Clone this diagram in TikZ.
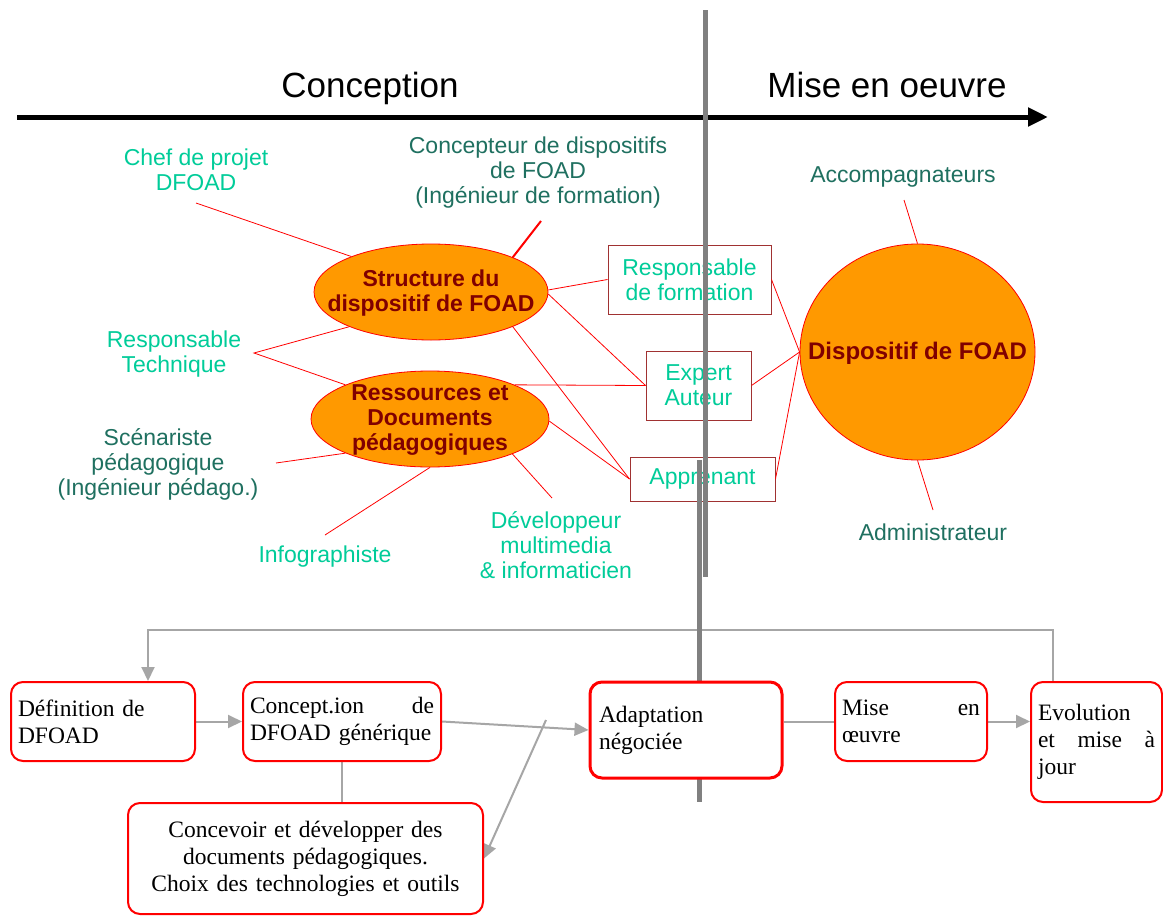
\documentclass[tikz,border=0pt]{standalone}
\usepackage{fontspec}
\setmainfont{Liberation Serif}
\newfontfamily\arial{Liberation Sans}
\usetikzlibrary{arrows.meta,shapes.geometric}
\pgfdeclarelayer{bg}
\pgfsetlayers{bg,main}
\definecolor{orng}{RGB}{255,153,0}
\definecolor{dred}{RGB}{128,0,0}
\definecolor{lgreen}{RGB}{0,204,153}
\definecolor{dteal}{RGB}{31,112,96}
\definecolor{boxred}{RGB}{160,50,50}
\definecolor{lgray}{RGB}{166,166,166}
\definecolor{dgray}{RGB}{128,128,128}
\begin{document}
\begin{tikzpicture}[x=1pt,y=-1pt,
  lbl/.style={font=\arial\fontsize{23}{25}\selectfont, align=center, inner sep=0pt},
  lg/.style={lbl, text=lgreen},
  tl/.style={lbl, text=dteal},
  title/.style={font=\arial\fontsize{35}{40}\selectfont, inner sep=0pt, anchor=base},
  ellshape/.style={ellipse, draw=red, fill=orng, line width=0.8pt, inner sep=0pt},
  etext/.style={font=\arial\bfseries\fontsize{23}{25}\selectfont, text=dred, align=center, inner sep=0pt},
  rolebox/.style={draw=boxred, line width=1pt, fill=white, lbl, text=lgreen},
  link/.style={draw=red, line width=0.8pt},
  proc/.style={draw=red, line width=2pt, rounded corners=12pt, fill=white, font=\fontsize{23.5}{27}\selectfont, inner xsep=7pt, inner ysep=0pt, align=left},
  garr/.style={draw=lgray, line width=2pt, -{Triangle[length=14pt,width=13pt]}},
  gline/.style={draw=lgray, line width=2pt},
  vbar/.style={draw=dgray, line width=5pt},
]
\useasboundingbox (0,0) rectangle (1163,916);
\begin{pgfonlayer}{bg}
\fill[white] (0,0) rectangle (1163,916);
\end{pgfonlayer}

% titles and main arrow
\node[title] (tconc) at (370,97) {Conception};
\node[title] (tmise) at (887,97) {Mise en oeuvre};
\coordinate (ax1) at (17,117);
\coordinate (ax2) at (1048,117);
\draw[line width=5pt, -{Triangle[length=20pt,width=18pt]}] (ax1) -- (ax2);

% ellipses
\node[ellshape, minimum width=234pt, minimum height=96pt] (s1) at (431,292) {};
\node[etext] (s1t) at (431,293) {Structure du\\dispositif de FOAD};
\node[ellshape, minimum width=238pt, minimum height=96pt] (r1) at (430,419) {};
\node[etext] (r1t) at (430,420) {Ressources et\\Documents\\pédagogiques};
\node[ellshape, minimum width=235pt, minimum height=216pt] (disp) at (917.5,352) {};
\node[etext, font=\arial\bfseries\fontsize{24}{26}\selectfont] (dispt) at (917.5,353) {Dispositif de FOAD};

% role boxes
\node[rolebox, minimum width=163pt, minimum height=69pt] (rf) at (689.5,279.5) {Responsable\\de formation};
\node[rolebox, minimum width=105pt, minimum height=69pt] (ea) at (698.5,385.5) {Expert\\Auteur};
\node[rolebox, minimum width=145pt, minimum height=44pt] (ap) at (702.5,479) {Apprenant};

% labels
\node[lg] (chef) at (196,170) {Chef de projet\\DFOAD};
\node[tl] (concp) at (538,173) {Concepteur de dispositifs\\de FOAD\\(Ingénieur de formation)};
\node[tl] (acc) at (903,177) {Accompagnateurs};
\node[lg] (rt) at (174,354) {Responsable\\Technique};
\node[tl] (scen) at (158,464) {Scénariste\\pédagogique\\(Ingénieur pédago.)};
\node[lg] (info) at (325,557) {Infographiste};
\node[lg] (dev) at (556,545) {Développeur\\multimedia\\\& informaticien};
\node[tl] (adm) at (933,532) {Administrateur};

% free ends
\coordinate (chefE) at (196,203);
\coordinate (concE) at (541,221);
\coordinate (rtE) at (254,353);
\coordinate (scE) at (276,463);
\coordinate (infE) at (325,535);
\coordinate (devE) at (552,498);
\coordinate (accE) at (904,200);
\coordinate (admE) at (933,510);

% red links
\draw[link] (chefE) -- (s1.156);
\draw[link, line width=2pt] (concE) -- (s1.23);
\draw[link] (s1.203) -- (rtE) -- (r1.158);
\draw[link] (scE) -- (r1.202);
\draw[link] (infE) -- (r1.south);
\draw[link] (devE) -- (r1.337);
\draw[link] (s1.1) -- (rf.west);
\draw[link] (s1.-1) -- (ea.west);
\draw[link] (s1.337) -- (ap.west);
\draw[link] (r1.22) -- (ea.west);
\draw[link] (r1.-1) -- (ap.west);
\draw[link] (rf.east) -- (disp.west);
\draw[link] (ea.east) -- (disp.west);
\draw[link] (ap.east) -- (disp.west);
\draw[link] (accE) -- (disp.north);
\draw[link] (disp.south) -- (admE);

% gray vertical divider
\coordinate (g1) at (705,10);
\coordinate (g2) at (705,577);
\coordinate (g3) at (699,460);
\coordinate (g4) at (699,802);
\draw[vbar] (g1) -- (g2);
\draw[vbar] (g3) -- (g4);

% process boxes
\node[proc, text width=170pt, minimum height=79pt] (def) at (103,721.5) {Définition de\\DFOAD};
\node[proc, text width=184pt, minimum height=79pt] (conc) at (342,721.5) {Concept.ion\hfill de\\DFOAD générique};
\node[proc, text width=341pt, align=center, minimum height=111pt] (concv) at (305.5,858.5) {Concevoir et développer des\\documents pédagogiques.\\Choix des technologies et outils};
\node[proc, line width=3pt, text width=174pt, inner xsep=9pt, minimum height=96pt] (adap) at (686,730) {Adaptation\\négociée};
\node[proc, text width=138pt, minimum height=79pt] (mise) at (911,721.5) {Mise\hfill en\\œuvre};
\node[proc, text width=117pt, minimum height=120pt] (evo) at (1096.5,742) {Evolution\\et\hfill mise\hfill à\\jour};

% gray connectors
\coordinate (fb1) at (1053,630);
\coordinate (fb2) at (148,630);
\coordinate (x1) at (546,720);
\begin{pgfonlayer}{bg}
\draw[garr] (evo.north -| fb1) -- (fb1) -- (fb2) -- (def.north -| fb2);
\draw[garr] (def.east) -- (conc.west);
\draw[garr] (conc.east) -- (adap.west);
\draw[garr] (x1) -- (concv.east);
\draw[gline] (conc.south) -- (conc.south |- concv.north);
\draw[gline] (adap.east |- mise.west) -- (mise.west);
\draw[garr] (mise.east) -- (mise.east -| evo.west);
\end{pgfonlayer}
\end{tikzpicture}
\end{document}
